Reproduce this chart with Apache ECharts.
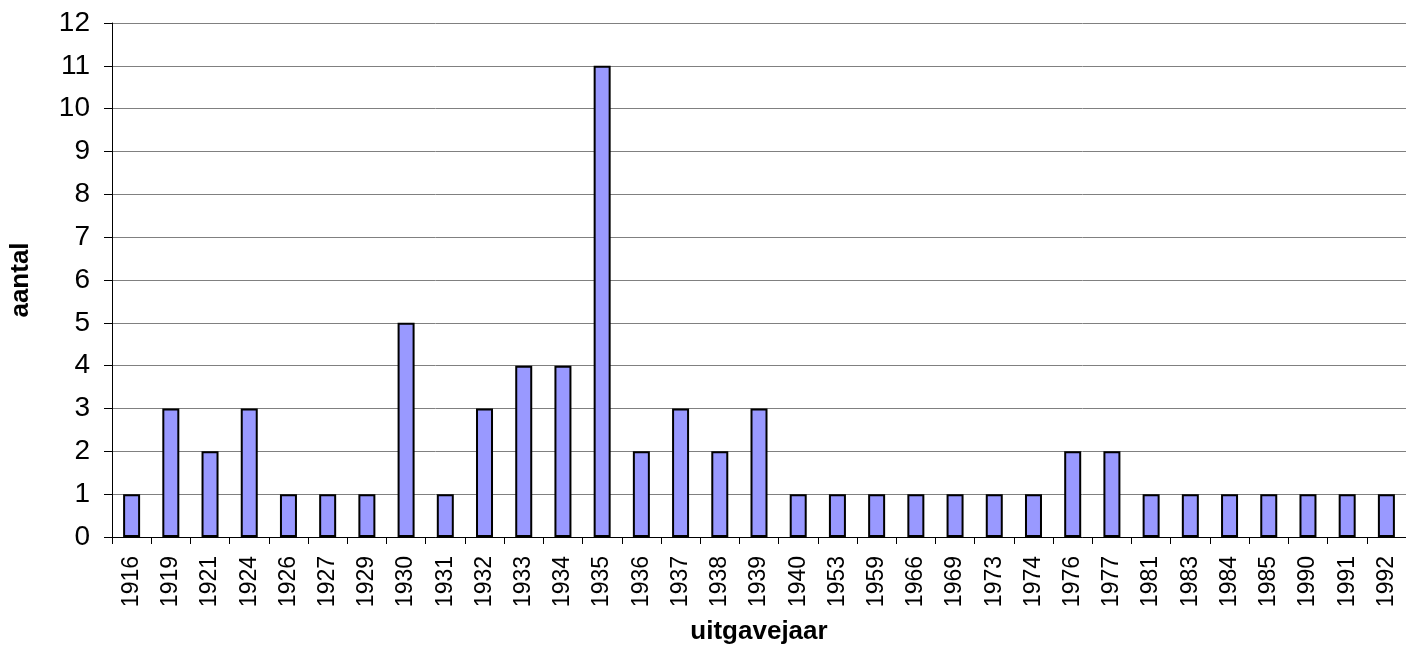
<!DOCTYPE html>
<html>
<head>
<meta charset="utf-8">
<script src="https://cdn.jsdelivr.net/npm/echarts@6/dist/echarts.min.js"></script>
<style>
html,body{margin:0;padding:0;background:#fff;}
#chart{width:1406px;height:651px;}
</style>
</head>
<body>
<div id="chart"></div>
<script>
const years = ['1916','1919','1921','1924','1926','1927','1929','1930','1931','1932','1933','1934','1935','1936','1937','1938','1939','1940','1953','1959','1966','1969','1973','1974','1976','1977','1981','1983','1984','1985','1990','1991','1992'];
const counts = [1,3,2,3,1,1,1,5,1,3,4,4,11,2,3,2,3,1,1,1,1,1,1,1,2,2,1,1,1,1,1,1,1];
const yTicks = {min:0, max:12, interval:1};

const chart = echarts.init(document.getElementById('chart'), null, {renderer:'canvas'});
const font = '"Liberation Sans", Arial, sans-serif';
chart.setOption({
  animation:false,
  backgroundColor:'#ffffff',
  grid:{left:110, right:-4, top:23, bottom:114, containLabel:false},
  xAxis:{
    type:'category',
    data:years,
    name:'uitgavejaar',
    nameLocation:'middle',
    nameGap:82,
    nameTextStyle:{fontFamily:font, fontSize:26, fontWeight:'bold', color:'#000'},
    axisLine:{lineStyle:{color:'#000', width:1}},
    axisTick:{show:true, length:7, lineStyle:{color:'#000'}},
    axisLabel:{rotate:90, fontFamily:font, fontSize:23, color:'#000', margin:19, interval:0}
  },
  yAxis:{
    type:'value',
    min:yTicks.min, max:yTicks.max, interval:yTicks.interval,
    name:'aantal',
    nameLocation:'middle',
    nameGap:78,
    nameRotate:90,
    nameTextStyle:{fontFamily:font, fontSize:26, fontWeight:'bold', color:'#000'},
    axisLine:{show:true, lineStyle:{color:'#000', width:1}},
    axisTick:{show:true, length:8, lineStyle:{color:'#000'}},
    axisLabel:{fontFamily:font, fontSize:28, color:'#000', margin:22},
    splitLine:{show:true, lineStyle:{color:'#808080', width:1}}
  },
  series:[{
    type:'bar',
    data:counts,
    barWidth:17,
    itemStyle:{color:'#9999FF', borderColor:'#000', borderWidth:2}
  }]
});
</script>
</body>
</html>
